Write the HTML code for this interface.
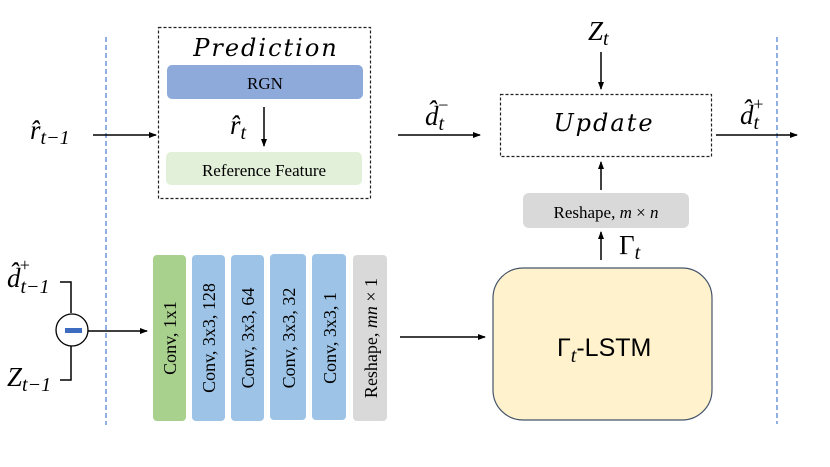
<!DOCTYPE html>
<html><head><meta charset="utf-8"><style>body{margin:0;background:#fff}svg{display:block}</style></head><body>
<svg width="830" height="467" viewBox="0 0 830 467" xmlns="http://www.w3.org/2000/svg" font-family="Liberation Serif, serif">
<defs><marker id="a" markerWidth="8" markerHeight="8" refX="7" refY="4" orient="auto" markerUnits="userSpaceOnUse"><path d="M0,1 L8,4 L0,7 z" fill="#000"/></marker></defs>
<line x1="106" y1="37" x2="106" y2="425" stroke="#8fb0e0" stroke-width="2" stroke-dasharray="5,3"/>
<line x1="777" y1="37" x2="777" y2="424" stroke="#8fb0e0" stroke-width="2" stroke-dasharray="5,3"/>
<rect x="158.5" y="27.5" width="212" height="171" fill="none" stroke="#222" stroke-width="1.2" stroke-dasharray="3,2"/>
<text x="266" y="56" text-anchor="middle" font-size="24" font-style="italic" letter-spacing="2" font-family="DejaVu Serif, serif">Prediction</text>
<rect x="167" y="65" width="196" height="34" rx="5" fill="#8eaadb"/>
<text x="265" y="89" text-anchor="middle" font-size="17">RGN</text>
<line x1="264" y1="107" x2="264" y2="146" stroke="#000" stroke-width="1.5" marker-end="url(#a)"/>
<text x="230" y="134" font-size="27" font-style="italic">r̂<tspan font-size="20" dy="5">t</tspan></text>
<rect x="166" y="152" width="196" height="33" rx="5" fill="#e2efd9"/>
<text x="264" y="176" text-anchor="middle" font-size="17">Reference Feature</text>
<text x="30" y="139" font-size="27" font-style="italic">r̂<tspan font-size="20" dy="5">t−1</tspan></text>
<line x1="93" y1="135" x2="156" y2="135" stroke="#000" stroke-width="1.5" marker-end="url(#a)"/>
<text x="425" y="125" font-size="27" font-style="italic">d̂<tspan font-size="20" dy="5">t</tspan><tspan font-size="18" dx="-7" dy="-19">−</tspan></text>
<line x1="398" y1="135" x2="480" y2="135" stroke="#000" stroke-width="1.5" marker-end="url(#a)"/>
<rect x="500.5" y="94.5" width="211" height="62" fill="none" stroke="#222" stroke-width="1.2" stroke-dasharray="3,2"/>
<text x="604" y="131" text-anchor="middle" font-size="24" font-style="italic" letter-spacing="2" font-family="DejaVu Serif, serif">Update</text>
<text x="588" y="40" font-size="27" font-style="italic">Z<tspan font-size="20" dy="5">t</tspan></text>
<line x1="601" y1="52" x2="601" y2="89" stroke="#000" stroke-width="1.5" marker-end="url(#a)"/>
<text x="740" y="124" font-size="27" font-style="italic">d̂<tspan font-size="20" dy="5">t</tspan><tspan font-size="18" dx="-7" dy="-19">+</tspan></text>
<line x1="716" y1="135" x2="797" y2="135" stroke="#000" stroke-width="1.5" marker-end="url(#a)"/>
<line x1="601" y1="190" x2="601" y2="162" stroke="#000" stroke-width="1.5" marker-end="url(#a)"/>
<rect x="523" y="193" width="166" height="35" rx="6" fill="#d9d9d9"/>
<text x="606" y="218" text-anchor="middle" font-size="17">Reshape, <tspan font-style="italic">m</tspan>  ×  <tspan font-style="italic">n</tspan></text>
<line x1="601" y1="260" x2="601" y2="232" stroke="#000" stroke-width="1.5" marker-end="url(#a)"/>
<text x="619" y="254" font-size="27">Γ<tspan font-size="20" font-style="italic" dy="5">t</tspan></text>
<rect x="493" y="268" width="219" height="152" rx="30" fill="#fff2cc" stroke="#44546a" stroke-width="1.2"/>
<text x="557" y="356" font-size="25" font-family="Liberation Sans, sans-serif">Γ<tspan font-size="20" font-style="italic" font-family="Liberation Serif, serif" dy="6">t</tspan><tspan dy="-6">-LSTM</tspan></text>
<line x1="400" y1="337" x2="485" y2="337" stroke="#000" stroke-width="1.5" marker-end="url(#a)"/>
<text x="7" y="287" font-size="27" font-style="italic">d̂<tspan font-size="20" dy="6">t−1</tspan><tspan font-size="18" dx="-31" dy="-22">+</tspan></text>
<text x="7" y="386" font-size="27" font-style="italic">Z<tspan font-size="20" dy="5">t−1</tspan></text>
<polyline points="60,282 71,282 71,313" fill="none" stroke="#000" stroke-width="1.5"/>
<polyline points="60,380 71,380 71,346" fill="none" stroke="#000" stroke-width="1.5"/>
<circle cx="72" cy="330" r="16" fill="#fff" stroke="#000" stroke-width="1.3"/>
<rect x="65" y="328" width="17" height="5" fill="#3c6bbf"/>
<line x1="88" y1="331" x2="147" y2="331" stroke="#000" stroke-width="1.5" marker-end="url(#a)"/>
<rect x="153" y="255" width="33" height="166" rx="4" fill="#a9d18e"/>
<rect x="192" y="255" width="33" height="166" rx="4" fill="#9dc3e6"/>
<rect x="231" y="255" width="33" height="166" rx="4" fill="#9dc3e6"/>
<rect x="270" y="254" width="36" height="166" rx="4" fill="#9dc3e6"/>
<rect x="312" y="254" width="34" height="166" rx="4" fill="#9dc3e6"/>
<rect x="353" y="255" width="34" height="166" rx="4" fill="#d9d9d9"/>
<g font-size="18">
<text transform="translate(176,338) rotate(-90)" text-anchor="middle">Conv, 1x1</text>
<text transform="translate(215,338) rotate(-90)" text-anchor="middle">Conv, 3x3, 128</text>
<text transform="translate(254,338) rotate(-90)" text-anchor="middle">Conv, 3x3, 64</text>
<text transform="translate(295,338) rotate(-90)" text-anchor="middle">Conv, 3x3, 32</text>
<text transform="translate(336,338) rotate(-90)" text-anchor="middle">Conv, 3x3, 1</text>
<text transform="translate(377,338) rotate(-90)" text-anchor="middle">Reshape, <tspan font-style="italic">mn</tspan>  ×  1</text>
</g>
</svg>
</body></html>
